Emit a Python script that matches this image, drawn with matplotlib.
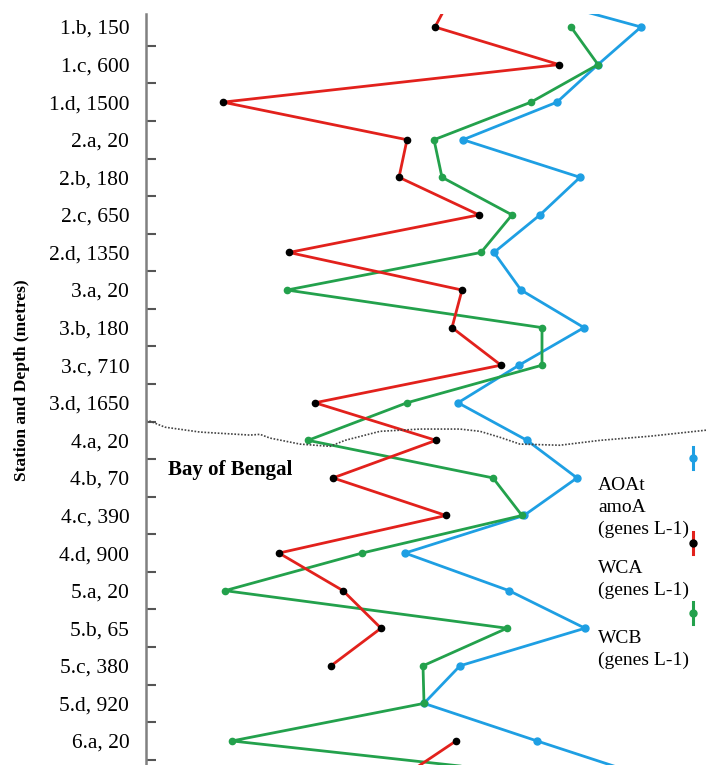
import matplotlib.pyplot as plt
import numpy as np

# station / depth labels shown on the axis
stations = ['1.b, 150', '1.c, 600', '1.d, 1500', '2.a, 20', '2.b, 180', '2.c, 650',
            '2.d, 1350', '3.a, 20', '3.b, 180', '3.c, 710', '3.d, 1650', '4.a, 20',
            '4.b, 70', '4.c, 390', '4.d, 900', '5.a, 20', '5.b, 65', '5.c, 380',
            '5.d, 920', '6.a, 20']

# values (relative, genes L-1); first and last entries are the neighbours
# that fall outside the cropped panel
aoa = [358, 495, 452, 411, 317, 434, 394, 348, 375, 438, 373, 312, 381, 431,
       378, 259, 363, 439, 314, 278, 391, 506]
wca = [309, 289, 413, 77, 261, 253, 333, 143, 316, 306, 355, 169, 290, 187,
       300, 133, 197, 235, 185, np.nan, 310, 254]
wcb = [np.nan, 425, 452, 385, 288, 296, 366, 335, 141, 396, 396, 261, 162, 347,
       376, 216, 79, 361, 277, 278, 86, 428]

# dotted "Bay of Bengal" boundary
bay_x = [0, 4, 19, 54, 104, 114, 124, 154, 184, 199, 234, 274, 314, 334, 354,
         374, 414, 454, 504, 560]
bay_y = [10.47, 10.49, 10.65, 10.78, 10.86, 10.84, 10.94, 11.10, 11.16, 11.00,
         10.76, 10.70, 10.70, 10.76, 10.92, 11.10, 11.13, 11.00, 10.89, 10.73]

blue = '#1e9fe3'
red = '#e2211c'
green = '#23a14c'
serif = 'Liberation Serif'

fig = plt.figure(figsize=(7.06, 7.65), dpi=100)
ax = fig.add_axes([146 / 706, 0, 560 / 706, 751 / 765])

pos = np.arange(-1, len(stations) + 1)
ax.plot(aoa, pos, color=blue, lw=2.0, marker='o', ms=5, mfc=blue, mec=blue)
ax.plot(wcb, pos, color=green, lw=2.0, marker='o', ms=4.5, mfc=green, mec=green)
ax.plot(wca, pos, color=red, lw=2.0, marker='o', ms=4.5, mfc='black', mec='black')

ax.plot(bay_x, bay_y, color='#444444', lw=1.2, ls=(0, (1, 1)))
ax.text(22, 11.79, 'Bay of Bengal', family=serif, fontweight='bold',
        fontsize=15, va='center', ha='left')

# hand-drawn style legend on the right
for ym, col, fc in [(11.47, blue, blue), (13.73, red, 'black'), (15.59, green, green)]:
    ax.plot([547, 547], [ym - 0.29, ym + 0.29], color=col, lw=2.2, clip_on=False)
    ax.plot(547, ym, 'o', ms=5, color=fc, clip_on=False)
ax.text(452, 11.97, 'AOAt\namoA\n(genes L-1)', family=serif, fontsize=14,
        va='top', ha='left', linespacing=1.38)
ax.text(452, 14.18, 'WCA\n(genes L-1)', family=serif, fontsize=14,
        va='top', ha='left', linespacing=1.38)
ax.text(452, 16.05, 'WCB\n(genes L-1)', family=serif, fontsize=14,
        va='top', ha='left', linespacing=1.38)

ax.set_xlim(0, 560)
ax.set_ylim(19.64, -0.346)
ax.set_xticks([])
ax.set_yticks(range(len(stations)))
ax.set_yticklabels(stations, family=serif, fontsize=15.5)
ax.set_yticks(np.arange(0.5, len(stations)), minor=True)
ax.tick_params(axis='y', which='major', length=0, pad=12)
ax.tick_params(axis='y', which='minor', direction='in', length=7, width=1.5,
               color='#555555')
for s in ['top', 'right', 'bottom']:
    ax.spines[s].set_visible(False)
ax.spines['left'].set_color('#808080')
ax.spines['left'].set_linewidth(1.8)

fig.text(22 / 706, 1 - 380 / 765, 'Station and Depth (metres)', family=serif,
         fontweight='bold', fontsize=12.5, rotation=90, va='center', ha='center')

fig.savefig('out.png', dpi=100)
